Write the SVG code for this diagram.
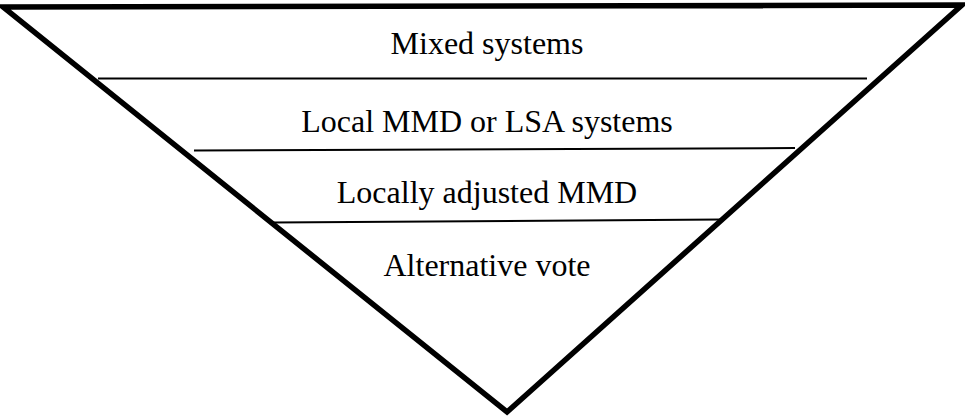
<svg xmlns="http://www.w3.org/2000/svg" width="965" height="418" viewBox="0 0 965 418">
<style>
.outline{fill:none;stroke:#000;stroke-width:5.5;stroke-linejoin:miter;stroke-miterlimit:10}
.div{stroke:#000;stroke-width:2;fill:none}
.lbl{font-family:'Liberation Serif','Times New Roman',serif;font-size:32px;fill:#000;text-anchor:middle}
</style>
<rect width="965" height="418" fill="#fff"/>
<g id="triangle">
<polygon class="outline" points="3,7 962,5 507,412"/>
</g>
<g id="connectors">
<line class="div" x1="98" y1="78.5" x2="867" y2="78.5"/>
<line class="div" x1="194" y1="150.5" x2="795" y2="148"/>
<line class="div" x1="273" y1="222.5" x2="722" y2="219.5"/>
</g>
<g id="tier1"><text class="lbl" x="487" y="54">Mixed systems</text></g>
<g id="tier2"><text class="lbl" x="487" y="132">Local MMD or LSA systems</text></g>
<g id="tier3"><text class="lbl" x="487" y="203">Locally adjusted MMD</text></g>
<g id="tier4"><text class="lbl" x="487" y="276">Alternative vote</text></g>
</svg>
